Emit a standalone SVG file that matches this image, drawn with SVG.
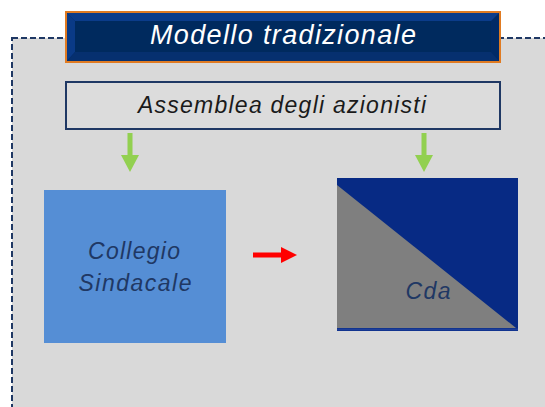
<svg xmlns="http://www.w3.org/2000/svg" width="545" height="407" viewBox="0 0 545 407">
<defs>
<style>
text{font-family:"Liberation Sans",Arial,sans-serif;font-style:italic;text-anchor:middle}
.lbl{fill:#1f3864;font-size:23px}
.green{fill:#92d050}
</style>
</defs>
<rect x="0" y="0" width="545" height="407" fill="#ffffff"/>
<rect x="12" y="38" width="560" height="400" fill="#d9d9d9" stroke="#1f3864" stroke-width="2" stroke-dasharray="6,3"/>
<g id="title">
<rect x="66" y="12" width="434" height="50" fill="#002a66" stroke="#e07b22" stroke-width="2"/>
<polygon points="67,13 499,13 491,21 75,21" fill="#0b3c8a"/>
<polygon points="67,13 75,21 75,52 67,61" fill="#0a3a86"/>
<polygon points="67,61 75,52 491,52 499,61" fill="#06306f"/>
<rect x="75" y="21" width="416" height="31" fill="#002a5e"/>
<text x="283" y="44" fill="#ffffff" font-size="27" textLength="266" lengthAdjust="spacing">Modello tradizionale</text>
</g>
<g id="assemblea">
<rect x="66" y="82" width="434" height="47" fill="#dcdcdc" stroke="#1f3864" stroke-width="2"/>
<text x="282" y="113" fill="#1a1a1a" font-size="23" textLength="288" lengthAdjust="spacing">Assemblea degli azionisti</text>
</g>
<g id="collegio">
<rect x="44" y="190" width="182" height="153" fill="#558ed5"/>
<text class="lbl" x="134" y="259" textLength="92" lengthAdjust="spacing">Collegio</text>
<text class="lbl" x="135" y="291" textLength="113" lengthAdjust="spacing">Sindacale</text>
</g>
<g id="cda">
<rect x="337" y="178" width="181" height="153" fill="#072a84"/>
<polygon points="337,185 516,328 337,328" fill="#7f7f7f"/>
<line x1="337" y1="329.5" x2="518" y2="329.5" stroke="#1f3f99" stroke-width="2"/>
<text class="lbl" x="428" y="299" textLength="45" lengthAdjust="spacing">Cda</text>
</g>
<g id="connectors">
<polygon class="green" points="127.5,133 132.5,133 132.5,155 139,155 130,172 121,155 127.5,155"/>
<polygon class="green" points="421.5,133 426.5,133 426.5,155 433,155 424,172 415,155 421.5,155"/>
<polygon fill="#ff0000" points="253,252.5 281,252.5 281,247 297,255 281,263 281,257.5 253,257.5"/>
</g>
</svg>
